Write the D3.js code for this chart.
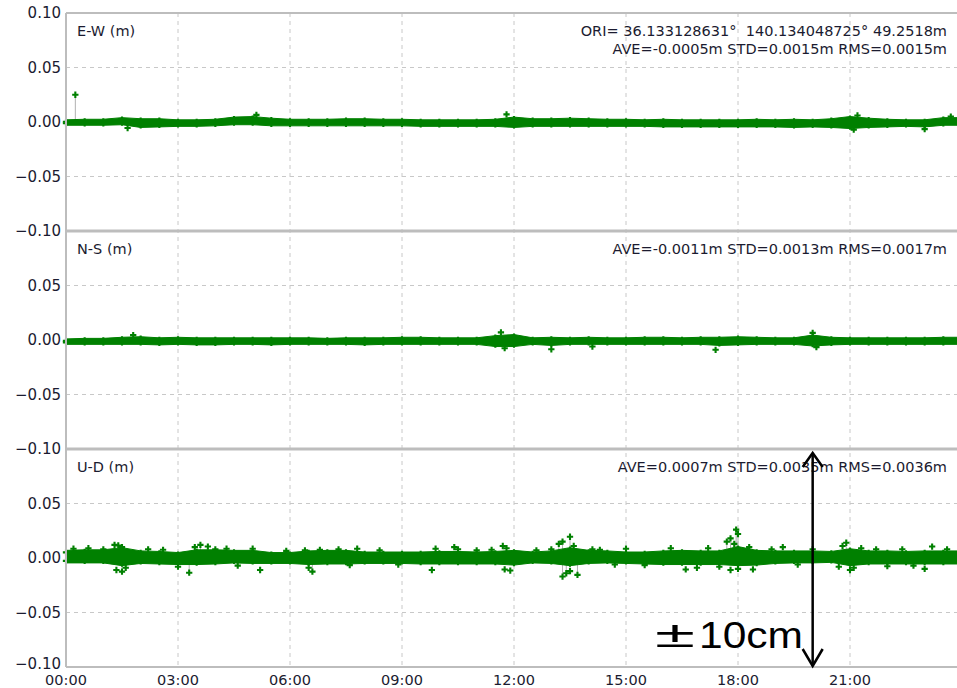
<!DOCTYPE html>
<html>
<head>
<meta charset="utf-8">
<script src="https://cdn.jsdelivr.net/npm/d3@7/dist/d3.min.js"></script>
<style>
  body { margin: 0; background: #fff; }
  svg { display: block; }
</style>
</head>
<body>
<svg id="chart" width="957" height="688"></svg>
<script>
// time of day (hours), 30 min steps
const hours = [0,0.5,1,1.5,2,2.5,3,3.5,4,4.5,5,5.5,6,6.5,7,7.5,8,8.5,9,9.5,10,10.5,11,11.5,
               12,12.5,13,13.5,14,14.5,15,15.5,16,16.5,17,17.5,18,18.5,19,19.5,20,20.5,21,21.5,22,22.5,23,23.5,24];

// upper / lower edge of the scatter band, in mm
const ewHi = [2,2.5,2.5,4,3,3,2,2,2.5,4.5,5,3.5,2.5,2.5,2.5,3,3,2.5,2.5,2,2,2,2,2.5,
              4.5,3,3,3.5,3,2.5,2.5,2,2.5,2,2,2,2,2.5,2,2.5,2,3,5,3.5,2.5,2,2,4,4];
const ewLo = [-3,-3,-3,-2.5,-5,-4.5,-4,-4,-3.5,-2.5,-2.5,-3.5,-3.5,-3.5,-3.5,-3.5,-3.5,-3.5,-3.5,-4,-4,-4,-4,-4,
              -5,-4,-4,-4,-4,-4,-4,-4,-4.5,-4.5,-4.5,-4.5,-4.5,-4.5,-4.5,-5,-4.5,-5,-6,-5,-4.5,-4,-4.5,-3,-3];
const nsHi = [1,1.5,1.5,2.5,3,2,2.5,2,2,2,2,2,2,2,1.5,2,2,2,2.5,2.5,2,2,2,4,
              5,2,2.5,2,2.5,2,2,2.5,2.5,2,2.5,2.5,3,2.5,2,2,4.5,2.5,2,2,2,2,2,2.5,2.5];
const nsLo = [-4,-4,-4,-4,-4,-4.5,-4,-4.5,-4.5,-4,-4,-4.5,-4,-4,-4,-4,-4.5,-4,-4,-4,-4,-4,-4,-6,
              -6,-4,-5,-4,-4,-4,-4,-4,-4,-4,-4,-5,-4.5,-4,-4,-4,-5.5,-4.5,-4,-4,-4,-4,-4,-4,-4];
const udHi = [7,7.5,7.5,9.5,6.5,6,5,7.5,7.5,7,7,5,5,6.5,7,7,5.5,5.5,5.5,5.5,6,6,5.5,6,
              7,5.5,6.5,9.5,7,6.5,5.5,5.5,6.5,7,6.5,6.5,10.5,7,6.5,6.5,6.5,6,8.5,6.5,6.5,6,6.5,6.5,6.5];
const udLo = [-4.5,-4.5,-4.5,-7,-5,-5.5,-6,-6,-5.5,-4.5,-5,-5,-5,-6,-5.5,-5.5,-5,-5,-5,-5.5,-5.5,-5.5,-5.5,-5.5,
              -6.5,-4.5,-5,-7,-5,-4.5,-5,-5.5,-6,-6,-6,-6,-7,-6.5,-5,-4.5,-4.5,-4,-7,-5.5,-5.5,-5.5,-5.5,-5.5,-5.5];

// single epochs sticking out of the band: [hour, mm]
const ewOut = [[0.25,25],[1.65,-5.5],[5.1,6.5],[11.8,7],[21.2,6],[21.1,-7],[23.0,-6.5],[23.7,5]];
const nsOut = [[1.8,4.5],[11.65,7],[11.75,-7.5],[13.0,-8.5],[14.1,-6],[17.4,-9],[20.0,6.5],[20.1,-6.5]];
const udOut = [[0.2,8.5],[0.6,9],[1.0,8],[1.3,12],[1.4,11.5],[1.5,10],[1.35,-11],[1.5,-12.5],[1.6,-9],
  [2.2,8],[2.6,7.5],[3.0,-8],[3.3,-13.5],[3.45,10],[3.6,12],[3.8,10.5],[4.0,8],[4.3,8.5],[4.6,-7],
  [5.2,-11],[5.0,8.5],[5.9,6.5],[6.4,7],[6.5,-9],[6.6,-12.5],[6.8,7.5],[7.3,8],[7.6,-6.5],[7.8,8.5],
  [8.4,7],[8.9,-6],[9.9,8.5],[9.8,-11],[10.4,10],[10.5,8],[11.0,7],[11.4,7.5],[11.7,11],[11.8,9],
  [11.75,-10.5],[11.9,-11.5],[12.6,7],[13.0,8],[13.2,13],[13.3,15],[13.5,19.5],[13.4,-14],[13.3,-17],
  [13.5,-12],[13.6,11],[13.7,-15.5],[14.1,8],[14.3,7.5],[14.7,-6],[15.0,8.5],[15.5,-6.5],[16.2,9],
  [16.6,-10.5],[16.9,-9],[17.2,9],[17.5,-8],[17.7,15],[17.8,18],[17.9,13],[17.95,26],[18.0,22],
  [17.8,-11],[18.0,-10],[18.4,-10.5],[18.3,10],[18.9,8],[19.2,10],[19.6,-6],[20.0,8],[20.7,-8],
  [20.8,11],[20.9,14],[21.0,-11],[21.1,-9],[21.3,9],[21.7,8],[22.0,-7.5],[22.4,8],[22.7,-7],
  [23.2,10.5],[23.0,-10],[23.6,8]];

const panelNames = ["E-W (m)", "N-S (m)", "U-D (m)"];
const statLines = [
  ["ORI= 36.133128631°  140.134048725° 49.2518m", "AVE=-0.0005m STD=0.0015m RMS=0.0015m"],
  ["AVE=-0.0011m STD=0.0013m RMS=0.0017m"],
  ["AVE=0.0007m STD=0.0035m RMS=0.0036m"]
];
const yTicks = [0.10, 0.05, 0.00, -0.05, -0.10];
const xTicks = [0, 3, 6, 9, 12, 15, 18, 21];
const xTickLabels = ["00:00","03:00","06:00","09:00","12:00","15:00","18:00","21:00"];

const panels = [
  {hi: ewHi, lo: ewLo, out: ewOut},
  {hi: nsHi, lo: nsLo, out: nsOut},
  {hi: udHi, lo: udLo, out: udOut}
];

const left = 66, top0 = 13, ph = 218, right = 962;
const green = "#008000", font = "DejaVu Sans", txt = "#1b1b30";

const svg = d3.select("#chart");
const x = d3.scaleLinear().domain([0, 24]).range([left, right]);
const cross = d3.symbol().type(d3.symbolCross).size(22);

// vertical grid through all panels
svg.append("g").selectAll("line").data(xTicks.slice(1)).enter().append("line")
  .attr("x1", d => x(d)).attr("x2", d => x(d))
  .attr("y1", top0).attr("y2", top0 + 3 * ph)
  .attr("stroke", "#c8c8c8").attr("stroke-dasharray", "4,4");

panels.forEach(function(p, i) {
  const y = d3.scaleLinear().domain([-0.1, 0.1]).range([top0 + ph * (i + 1), top0 + ph * i]);
  const g = svg.append("g");
  const pts = hours.map((h, k) => ({h: h, hi: p.hi[k] / 1000, lo: p.lo[k] / 1000}));

  g.selectAll(".hgrid").data([0.05, 0, -0.05]).enter().append("line")
    .attr("x1", left).attr("x2", 957)
    .attr("y1", d => y(d)).attr("y2", d => y(d))
    .attr("stroke", "#c8c8c8").attr("stroke-dasharray", "4,4");

  // thin grey connector under the big spikes
  g.selectAll(".stem").data(p.out.filter(d => Math.abs(d[1]) >= 12)).enter().append("line")
    .attr("x1", d => x(d[0])).attr("x2", d => x(d[0]))
    .attr("y1", y(0)).attr("y2", d => y(d[1] / 1000))
    .attr("stroke", "#b0b0b0").attr("stroke-width", 1);

  g.append("path").datum(pts)
    .attr("d", d3.area().x(d => x(d.h)).y0(d => y(d.lo)).y1(d => y(d.hi)))
    .attr("fill", green).attr("stroke", green).attr("stroke-width", 1);

  // ragged edge of the band
  g.selectAll(".eh").data(pts).enter().append("path")
    .attr("d", cross)
    .attr("transform", d => "translate(" + x(d.h) + "," + (y(d.hi) + 2) + ")")
    .attr("fill", green);
  g.selectAll(".el").data(pts).enter().append("path")
    .attr("d", cross)
    .attr("transform", d => "translate(" + x(d.h) + "," + (y(d.lo) - 2) + ")")
    .attr("fill", green);

  g.selectAll(".out").data(p.out).enter().append("path")
    .attr("d", cross)
    .attr("transform", d => "translate(" + x(d[0]) + "," + y(d[1] / 1000) + ")")
    .attr("fill", green);

  // y labels (top label only on the first panel); the very last one sits a bit higher
  g.selectAll(".yl").data(i === 0 ? yTicks : yTicks.slice(1)).enter().append("text")
    .attr("x", 61).attr("y", d => (i === 2 && d === -0.10) ? y(d) - 3 : y(d))
    .attr("text-anchor", "end").attr("dominant-baseline", "central")
    .attr("font-family", font).attr("font-size", 15).attr("fill", txt)
    .text(d => d3.format(".2f")(d));

  g.append("text")
    .attr("x", 77).attr("y", top0 + ph * i + 18)
    .attr("dominant-baseline", "central")
    .attr("font-family", font).attr("font-size", 14.5).attr("fill", txt)
    .text(panelNames[i]);

  g.selectAll(".st").data(statLines[i]).enter().append("text")
    .attr("x", 947).attr("y", (d, k) => top0 + ph * i + 18 + k * 18)
    .attr("text-anchor", "end").attr("dominant-baseline", "central")
    .attr("font-family", font).attr("font-size", 14.5).attr("fill", txt)
    .style("white-space", "pre")
    .text(d => d);
});

// frame: left edge, top, panel separators, bottom
svg.append("line").attr("x1", left).attr("x2", left).attr("y1", top0).attr("y2", top0 + 3 * ph)
  .attr("stroke", "#bdbdbd").attr("stroke-width", 2);
svg.selectAll(".sep").data([0, 1, 2, 3]).enter().append("line")
  .attr("x1", left).attr("x2", 957)
  .attr("y1", d => top0 + d * ph).attr("y2", d => top0 + d * ph)
  .attr("stroke", "#bdbdbd").attr("stroke-width", d => (d === 1 || d === 2) ? 3 : 2);

svg.selectAll(".xl").data(xTicks).enter().append("text")
  .attr("x", d => x(d)).attr("y", top0 + 3 * ph + 13)
  .attr("text-anchor", "middle").attr("dominant-baseline", "central")
  .attr("font-family", font).attr("font-size", 14.5).attr("fill", txt)
  .text((d, k) => xTickLabels[k]);

// ±10cm annotation
const yUD = d3.scaleLinear().domain([-0.1, 0.1]).range([top0 + 3 * ph, top0 + 2 * ph]);
const ax = x(20.0);
const ann = svg.append("g").attr("stroke", "#000").attr("stroke-width", 2.5).attr("fill", "none");
ann.append("line").attr("x1", ax).attr("x2", ax).attr("y1", yUD(0.1) + 4).attr("y2", yUD(-0.1) - 1);
ann.append("polyline").attr("points", [[ax - 10, yUD(0.1) + 18], [ax, yUD(0.1) + 4], [ax + 10, yUD(0.1) + 18]].join(" "));
ann.append("polyline").attr("points", [[ax - 10, yUD(-0.1) - 18], [ax, yUD(-0.1) - 1], [ax + 10, yUD(-0.1) - 18]].join(" "));

svg.append("text").attr("x", 655).attr("y", 647)
  .attr("font-family", "Liberation Sans").attr("font-size", 37).attr("fill", "#000")
  .attr("textLength", 40).attr("lengthAdjust", "spacingAndGlyphs")
  .text("±");
svg.append("text").attr("x", 699).attr("y", 648)
  .attr("font-family", "Liberation Sans").attr("font-size", 37).attr("fill", "#000")
  .attr("textLength", 104).attr("lengthAdjust", "spacingAndGlyphs")
  .text("10cm");
</script>
</body>
</html>
